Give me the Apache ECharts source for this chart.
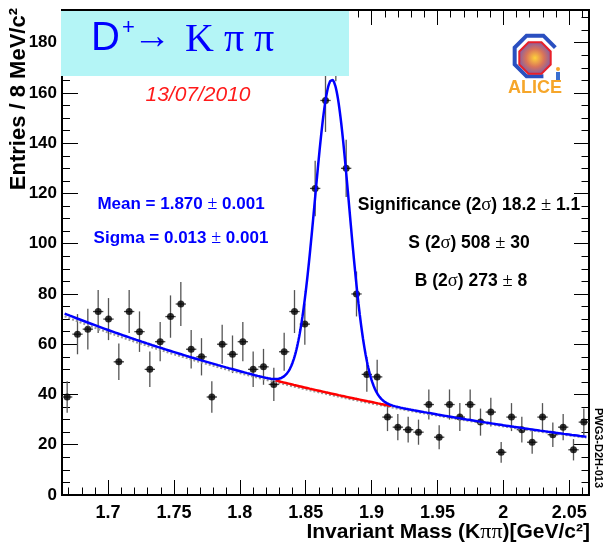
<!DOCTYPE html>
<html>
<head>
<meta charset="utf-8">
<script src="https://cdn.jsdelivr.net/npm/echarts@6/dist/echarts.min.js"></script>
<style>
  html, body { margin: 0; padding: 0; background: #ffffff; }
  #chart { width: 603px; height: 546px; }
</style>
</head>
<body>
<div id="chart"></div>
<script>
// Invariant-mass histogram: 51 bins between 1.665 and 2.065 GeV/c^2
const binLow = 1.665;
const binHigh = 2.065;
const nBins = 51;
const entries = [
  39, 64, 66, 73, 70, 53, 73, 65, 50, 61,
  71, 76, 58, 55, 39, 60, 56, 61, 50, 51,
  44, 57, 73, 68, 122, 157, 178, 130, 80, 48,
  47, 31, 27, 26, 25, 36, 23, 36, 31, 36,
  29, 33, 17, 31, 26, 21, 31, 24, 27, 18,
  29
];

// Axis ticks
const xMajorTicks = [1.7, 1.75, 1.8, 1.85, 1.9, 1.95, 2.0, 2.05];
const xMinorTicks = [1.67, 1.68, 1.69, 1.71, 1.72, 1.73, 1.74, 1.76, 1.77, 1.78, 1.79,
  1.81, 1.82, 1.83, 1.84, 1.86, 1.87, 1.88, 1.89, 1.91, 1.92, 1.93, 1.94,
  1.96, 1.97, 1.98, 1.99, 2.01, 2.02, 2.03, 2.04, 2.06];
const yMajorTicks = [0, 20, 40, 60, 80, 100, 120, 140, 160, 180];
const yMinorTicks = [5, 10, 15, 25, 30, 35, 45, 50, 55, 65, 70, 75, 85, 90, 95,
  105, 110, 115, 125, 130, 135, 145, 150, 155, 165, 170, 175, 185, 190];
const yMax = 193;

// Fit: gaussian signal on an exponential background
const fitMean = 1.870;
const fitSigma = 0.013;
const fitPeak = 125;
const bkgNorm = 72.6;
const bkgSlope = 2.87;
const sidebandScale = 0.985;
const fitRange = [1.667, 2.063];
const signalRange = [1.827, 1.915];

const binWidth = (binHigh - binLow) / nBins;
const points = entries.map((n, k) => [binLow + (k + 0.5) * binWidth, n, Math.sqrt(n)]);

function bkg(x) { return bkgNorm * Math.exp(-bkgSlope * (x - binLow)); }
function total(x) {
  const t = (x - fitMean) / fitSigma;
  return bkg(x) + fitPeak * Math.exp(-0.5 * t * t);
}
function sample(fn, a, b, step) {
  const out = [];
  for (let x = a; x <= b + 1e-9; x += step) out.push([x, fn(x)]);
  return out;
}

const FONT = "'Liberation Sans', Arial, Helvetica, sans-serif";
const SERIF = "'Liberation Serif', 'Times New Roman', serif";

function xAxisCfg(pos, ticks, len, labels) {
  return {
    type: 'value', min: binLow, max: binHigh, position: pos,
    axisLine: { show: true, onZero: false, lineStyle: { color: '#000', width: 2 } },
    axisTick: { show: true, inside: true, length: len, customValues: ticks, lineStyle: { color: '#000', width: 1 } },
    axisLabel: labels ? {
      show: true, customValues: ticks, margin: 9,
      fontFamily: FONT, fontWeight: 'bold', fontSize: 18, color: '#000'
    } : { show: false },
    splitLine: { show: false }
  };
}
function yAxisCfg(pos, ticks, len, labels) {
  return {
    type: 'value', min: 0, max: yMax, position: pos,
    axisLine: { show: true, onZero: false, lineStyle: { color: '#000', width: 2 } },
    axisTick: { show: true, inside: true, length: len, customValues: ticks, lineStyle: { color: '#000', width: 1 } },
    axisLabel: labels ? {
      show: true, customValues: ticks, margin: 5,
      fontFamily: FONT, fontWeight: 'bold', fontSize: 17, color: '#000'
    } : { show: false },
    splitLine: { show: false }
  };
}

// ALICE logo outline (octagon) around a centre point
function octagon(cx, cy, r) {
  const pts = [];
  for (let i = 0; i < 8; i++) {
    const a = (22.5 + 45 * i) * Math.PI / 180;
    pts.push([cx + r * Math.cos(a), cy - r * Math.sin(a)]);
  }
  return pts;
}
const logoC = [535, 56];

const chart = echarts.init(document.getElementById('chart'), null, { renderer: 'canvas' });

function richColored(color, size) {
  return {
    b: { fontFamily: FONT, fontWeight: 'bold', fontSize: size, fill: color },
    s: { fontFamily: SERIF, fontWeight: 'normal', fontSize: size + 1, fill: color }
  };
}

chart.setOption({
  animation: false,
  backgroundColor: '#ffffff',
  grid: { left: 62, right: 14, top: 10, bottom: 51, containLabel: false },
  xAxis: [
    xAxisCfg('bottom', xMajorTicks, 15, true),
    xAxisCfg('bottom', xMinorTicks, 7.5, false),
    xAxisCfg('top', xMajorTicks, 15, false),
    xAxisCfg('top', xMinorTicks, 7.5, false)
  ],
  yAxis: [
    yAxisCfg('left', yMajorTicks, 16, true),
    yAxisCfg('left', yMinorTicks, 8, false),
    yAxisCfg('right', yMajorTicks, 15, false),
    yAxisCfg('right', yMinorTicks, 7.5, false)
  ],
  series: [
    {
      type: 'custom', name: 'errors', z: 2, clip: true,
      data: points,
      renderItem(params, api) {
        const x = api.value(0), y = api.value(1), e = api.value(2);
        const top = api.coord([x, y + e]);
        const bot = api.coord([x, Math.max(0, y - e)]);
        const l = api.coord([x - binWidth / 2, y]);
        const r = api.coord([x + binWidth / 2, y]);
        return {
          type: 'group',
          children: [
            { type: 'line', shape: { x1: top[0], y1: top[1], x2: bot[0], y2: bot[1] }, style: { stroke: '#555', lineWidth: 1.3 } },
            { type: 'line', shape: { x1: l[0], y1: l[1], x2: r[0], y2: r[1] }, style: { stroke: '#444', lineWidth: 1.3 } }
          ]
        };
      }
    },
    {
      type: 'scatter', name: 'entries', z: 3,
      data: points.map(p => [p[0], p[1]]),
      symbol: 'circle', symbolSize: 7,
      itemStyle: { color: '#000' }
    },
    {
      type: 'line', name: 'sideband background', z: 4,
      data: sample(x => sidebandScale * bkg(x), fitRange[0], fitRange[1], 0.001),
      showSymbol: false, lineStyle: { color: '#9a9a9a', width: 2.2, type: [2, 2] }
    },
    {
      type: 'line', name: 'background', z: 5,
      data: sample(bkg, signalRange[0], signalRange[1], 0.001),
      showSymbol: false, lineStyle: { color: '#ff0000', width: 2.5 }
    },
    {
      type: 'line', name: 'total fit', z: 6,
      data: sample(total, fitRange[0], fitRange[1], 0.0005),
      showSymbol: false, lineStyle: { color: '#0000ff', width: 2.5 }
    }
  ],
  graphic: [
    // decay channel box
    { type: 'rect', z: 100, shape: { x: 61, y: 11, width: 288, height: 65 }, style: { fill: '#b4f5f6' } },
    { type: 'text', z: 101, x: 91, y: 59, style: { text: 'D', font: `40px ${FONT}`, fill: '#0000ff', textVerticalAlign: 'bottom' } },
    { type: 'text', z: 101, x: 122, y: 39, style: { text: '+', font: `22px ${FONT}`, fill: '#0000ff', textVerticalAlign: 'bottom' } },
    { type: 'text', z: 101, x: 133, y: 57, style: { text: '→', font: `38px ${SERIF}`, fill: '#0000ff', textVerticalAlign: 'bottom' } },
    { type: 'text', z: 101, x: 185, y: 60, style: { text: 'K π π', font: `40px ${SERIF}`, fill: '#0000ff', textVerticalAlign: 'bottom' } },
    // date
    { type: 'text', z: 101, x: 198, y: 95, style: { text: '13/07/2010', font: `italic 21px ${FONT}`, fill: '#ff1a1a', textAlign: 'center', textVerticalAlign: 'middle' } },
    // fit results
    { type: 'text', z: 101, x: 181, y: 204, style: { text: '{b|Mean = 1.870 }{s|±}{b| 0.001}', rich: richColored('#0000ff', 17), textAlign: 'center', textVerticalAlign: 'middle' } },
    { type: 'text', z: 101, x: 181, y: 238, style: { text: '{b|Sigma = 0.013 }{s|±}{b| 0.001}', rich: richColored('#0000ff', 17), textAlign: 'center', textVerticalAlign: 'middle' } },
    { type: 'text', z: 101, x: 469, y: 205, style: { text: '{b|Significance (2}{s|σ}{b|) 18.2 }{s|±}{b| 1.1}', rich: richColored('#000', 17.5), textAlign: 'center', textVerticalAlign: 'middle' } },
    { type: 'text', z: 101, x: 469, y: 243, style: { text: '{b|S (2}{s|σ}{b|) 508 }{s|±}{b| 30}', rich: richColored('#000', 17.5), textAlign: 'center', textVerticalAlign: 'middle' } },
    { type: 'text', z: 101, x: 471, y: 281, style: { text: '{b|B (2}{s|σ}{b|) 273 }{s|±}{b| 8}', rich: richColored('#000', 17.5), textAlign: 'center', textVerticalAlign: 'middle' } },
    // axis titles
    { type: 'text', z: 101, x: 590, y: 532, style: { text: '{b|Invariant Mass (K}{s|ππ}{b|)[GeV/c²]}', rich: {
        b: { fontFamily: FONT, fontWeight: 'bold', fontSize: 21, fill: '#000' },
        s: { fontFamily: SERIF, fontWeight: 'normal', fontSize: 22, fill: '#000' } },
      textAlign: 'right', textVerticalAlign: 'middle' } },
    { type: 'text', z: 101, x: 19, y: 8, rotation: Math.PI / 2, style: { text: 'Entries / 8 MeV/c²', font: `bold 22px ${FONT}`, fill: '#000', textAlign: 'right', textVerticalAlign: 'middle' } },
    // plot identifier
    { type: 'text', z: 101, x: 598, y: 448, rotation: -Math.PI / 2, style: { text: 'PWG3-D2H-013', font: `bold 11px ${FONT}`, fill: '#000', textAlign: 'center', textVerticalAlign: 'middle' } },
    // ALICE logo
    { type: 'polyline', z: 101, shape: { points: octagon(logoC[0], logoC[1], 22).slice(0, 7) }, style: { stroke: '#2a4fc0', lineWidth: 4, fill: null } },
    { type: 'polygon', z: 102, shape: { points: octagon(logoC[0], logoC[1] + 2, 17) }, style: {
        stroke: '#e8202a', lineWidth: 2,
        fill: new echarts.graphic.RadialGradient(0.5, 0.5, 0.6, [
          { offset: 0, color: '#ffd23a' }, { offset: 0.45, color: '#d9735a' }, { offset: 1, color: '#5a55c8' }
        ]) } },
    { type: 'text', z: 101, x: 535, y: 88, style: { text: 'ALICE', font: `bold 18px ${FONT}`, fill: '#f6a62a', textAlign: 'center', textVerticalAlign: 'middle' } },
    { type: 'circle', z: 101, shape: { cx: 558, cy: 69, r: 2 }, style: { fill: '#f6a62a' } },
    { type: 'rect', z: 101, shape: { x: 556, y: 72, width: 4, height: 8 }, style: { fill: '#3a6fd0' } }
  ]
});
</script>
</body>
</html>
